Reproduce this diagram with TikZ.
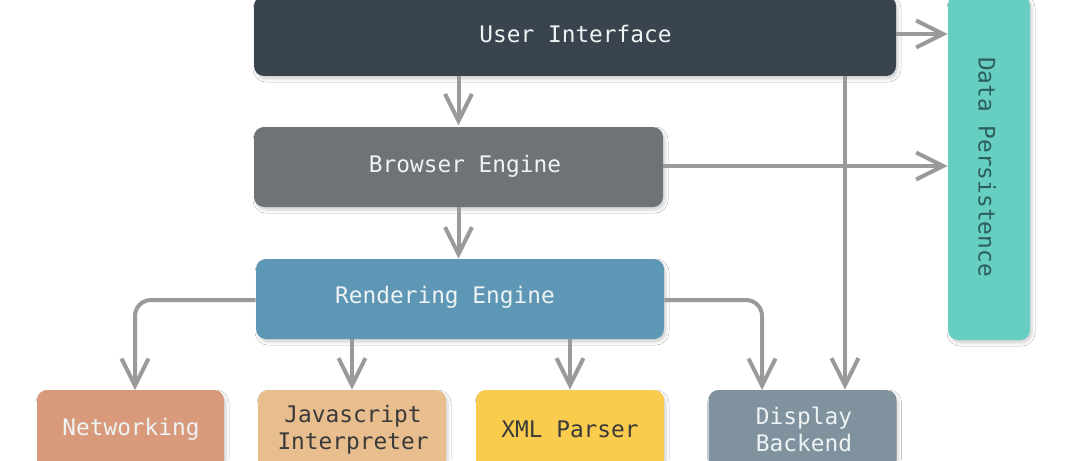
\documentclass[tikz,border=0pt]{standalone}
\usepackage{fontspec}
\setmonofont{DejaVu Sans Mono}
\usetikzlibrary{arrows.meta,shadows.blur,calc}
\definecolor{uicol}{HTML}{39444F}
\definecolor{brcol}{HTML}{6E7378}
\definecolor{recol}{HTML}{5E97B6}
\definecolor{netcol}{HTML}{D99A7C}
\definecolor{jscol}{HTML}{E9BE8E}
\definecolor{xmlcol}{HTML}{F9CC4E}
\definecolor{dispcol}{HTML}{7F929E}
\definecolor{dpcol}{HTML}{67CFC1}
\definecolor{lighttext}{HTML}{EEF3F4}
\definecolor{darktext}{HTML}{3A3A3A}
\definecolor{dptext}{HTML}{2C5E5A}
\definecolor{arrowgray}{HTML}{9A9A9A}
\begin{document}
\begin{tikzpicture}[x=0.5pt,y=-0.5pt,
  box/.style={rounded corners=5pt, inner sep=0pt, draw=none,
    blur shadow={shadow xshift=1pt, shadow yshift=-1.5pt, shadow blur radius=1.5pt, shadow opacity=18}},
  lbl/.style={font=\ttfamily\fontsize{11.4}{13.5}\selectfont, align=center, inner sep=0pt},
  arr/.style={draw=arrowgray, line width=2pt, -{Straight Barb[length=13.5pt,width=13.5pt]}, rounded corners=8pt}]
\useasboundingbox (0,0) rectangle (1080,460);
\fill[white] (0,0) rectangle (1080,460);

% boxes
\node[box, fill=uicol, minimum width=321pt, minimum height=40pt] (ui) at (575,36) {};
\node[box, fill=brcol, minimum width=204.5pt, minimum height=40pt] (br) at (458.5,167) {};
\node[box, fill=recol, minimum width=204pt, minimum height=40pt] (re) at (460,299) {};
\node[box, fill=netcol, minimum width=93.5pt, minimum height=40pt] (net) at (130.5,430) {};
\node[box, fill=jscol, minimum width=94pt, minimum height=40pt] (js) at (352,430) {};
\node[box, fill=xmlcol, minimum width=94pt, minimum height=40pt] (xml) at (570,430) {};
\node[box, fill=dispcol, minimum width=94pt, minimum height=40pt] (disp) at (802.5,430) {};
\node[box, fill=dpcol, minimum width=41pt, minimum height=172.5pt] (dp) at (989,167.5) {};

% labels
\node[lbl, text=lighttext] (uit) at (575.5,34) {User Interface};
\node[lbl, text=lighttext] (brt) at (465,166) {Browser Engine};
\node[lbl, text=lighttext] (ret) at (445,297) {Rendering Engine};
\node[lbl, text=lighttext] (nett) at (131,429) {Networking};
\node[lbl, text=darktext] (jst) at (353,429.5) {Javascript\\Interpreter};
\node[lbl, text=darktext] (xmlt) at (570,429) {XML Parser};
\node[lbl, text=lighttext] (dispt) at (804,429.5) {Display\\Backend};
\node[lbl, text=dptext, rotate=-90] (dpt) at (987,167) {Data Persistence};

% connectors
\coordinate (uidrop) at (845,76);
\coordinate (netin) at (135,390);
\coordinate (dispin) at (762,390);
\draw[arr] (ui.south -| br.north) -- ++(0,49);
\draw[arr] (br.south) -- (br.south |- re.north);
\draw[arr] (ui.east |- uit) -- (uit -| dp.west);
\draw[arr] (br.east |- brt) -- (brt -| dp.west);
\draw[arr] (uidrop) -- (uidrop |- disp.north);
\draw[arr] (re.west |- 0,300) -| (netin);
\draw[arr] (re.south -| js.north) -- (js.north);
\draw[arr] (re.south -| xml.north) -- (xml.north);
\draw[arr] (re.east |- 0,300) -| (dispin);
\end{tikzpicture}
\end{document}
